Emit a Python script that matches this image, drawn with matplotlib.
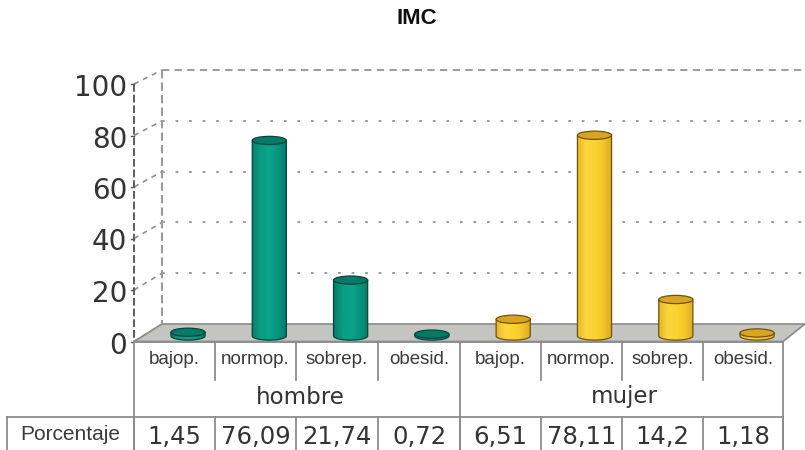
import numpy as np
import matplotlib
matplotlib.use('Agg')
import matplotlib.pyplot as plt
from matplotlib.colors import LinearSegmentedColormap
from matplotlib.patches import Ellipse, PathPatch, Polygon
from matplotlib.path import Path

W, H = 805, 450

categorias = ['bajop.', 'normop.', 'sobrep.', 'obesid.'] * 2
grupos = ['hombre', 'mujer']
valores = [1.45, 76.09, 21.74, 0.72, 6.51, 78.11, 14.2, 1.18]
etiquetas_valores = ['1,45', '76,09', '21,74', '0,72', '6,51', '78,11', '14,2', '1,18']
ticks = [0, 20, 40, 60, 80, 100]
fila = 'Porcentaje'

GRIS = '#8c8c8c'
TEXTO = '#333333'
VERDE = ['#067f6c', '#0a9c85', '#0aa48c', '#07947e', '#067a68']
AMARILLO = ['#e6b526', '#fdd63d', '#fcd230', '#f5c62a', '#dca81f']
TAPA = {'v': '#067a67', 'a': '#d9a520'}

fig = plt.figure(figsize=(W / 100, H / 100), dpi=100, facecolor='white')

# capa base en pixeles para rejilla, suelo y tabla
base = fig.add_axes([0, 0, 1, 1])
base.set_xlim(0, W)
base.set_ylim(H, 0)
base.axis('off')

FRONT_X, BACK_X = 134, 162
FRONT_0, FRONT_100 = 341.5, 84
BACK_0, BACK_100 = 324, 70
DERECHA = 783


def front_y(v):
    return FRONT_0 - (FRONT_0 - FRONT_100) * v / 100


def back_y(v):
    return BACK_0 - (BACK_0 - BACK_100) * v / 100


# suelo
base.add_patch(Polygon([(FRONT_X, FRONT_0), (BACK_X, BACK_0), (W, BACK_0), (DERECHA, FRONT_0)],
                       closed=True, facecolor='#c4c4c0', edgecolor='#8a8a86', lw=1.2, zorder=1))

# rejilla
for t in ticks:
    by = back_y(t)
    if t > 0:
        est = (0, (4, 3)) if t == 100 else (0, (1.5, 6))
        base.plot([BACK_X, W], [by, by], color='#8f9592', lw=1.3, ls=est, zorder=1)
    base.plot([FRONT_X, BACK_X], [front_y(t), by], color='#8f8f8f', lw=1.2, ls=(0, (3, 3)), zorder=1)
    base.plot([FRONT_X - 3, FRONT_X], [front_y(t)] * 2, color='#555555', lw=1, zorder=2)
    base.text(127, front_y(t) + 4, str(t), ha='right', va='center', fontsize=20,
              color=TEXTO, family='DejaVu Sans')
base.plot([BACK_X, BACK_X], [BACK_100, BACK_0], color='#9a9a9a', lw=1.5, ls=(0, (4, 2)), zorder=1)
base.plot([FRONT_X, FRONT_X], [FRONT_100, FRONT_0], color='#5c5c5c', lw=1.4, ls=(0, (4, 1.5)), zorder=2)

# tabla
y_linea = 417
anchos = [134, 215, 296, 378, 460, 541, 622, 703, 783]
centros = [(a + b) / 2 for a, b in zip(anchos[:-1], anchos[1:])]
for i, x in enumerate(anchos):
    largo = i in (0, 4, 8)
    base.plot([x, x], [FRONT_0, H if largo else 380], color=GRIS, lw=1.3, zorder=2)
    base.plot([x, x], [y_linea, H], color=GRIS, lw=1.3, zorder=2)
base.plot([FRONT_X, DERECHA], [FRONT_0, FRONT_0], color=GRIS, lw=1.3, zorder=2)
base.plot([7, DERECHA], [y_linea, y_linea], color=GRIS, lw=1.3, zorder=2)
base.plot([7, 7], [y_linea, H], color=GRIS, lw=1.3, zorder=2)

for c, cat, et in zip(centros, categorias, etiquetas_valores):
    base.text(c, 359, cat, ha='center', va='center', fontsize=13.5, color='#3a3a3a', family='Liberation Sans')
    base.text(c, 437, et, ha='center', va='center', fontsize=17.5, color=TEXTO, family='DejaVu Sans')
for j, g in enumerate(grupos):
    base.text((anchos[j * 4] + anchos[j * 4 + 4]) / 2 + 3, 397, g, ha='center', va='center',
              fontsize=16.5, color=TEXTO, family='DejaVu Sans')
base.text(70, 435, fila, ha='center', va='center', fontsize=15, color='#3a3a3a', family='Liberation Sans')
base.text(417, 19, 'IMC', ha='center', va='center', fontsize=16, fontweight='bold',
          color='#111111', family='Liberation Sans')

# capa de barras, en unidades de categoria y porcentaje
X_0, PASO = 188, 81.3
Y_0, ESCALA = 336, 2.57
Y_MIN = -5
izq = (X_0 - PASO / 2) / W
abajo = (H - Y_0 + Y_MIN * ESCALA) / H
bars = fig.add_axes([izq, abajo, PASO * 8 / W, ESCALA * (100 - Y_MIN) / H], facecolor='none')
bars.axis('off')

ANCHO = 0.42
ALTO_ELIPSE = 3.2
cm_v = LinearSegmentedColormap.from_list('v', VERDE)
cm_a = LinearSegmentedColormap.from_list('a', AMARILLO)
gradiente = np.linspace(0, 1, 64).reshape(1, -1)

for i, v in enumerate(valores):
    hombre = i < 4
    borde = '#04463c' if hombre else '#6d5410'
    l, r = i - ANCHO / 2, i + ANCHO / 2
    # cuerpo: lados rectos y base eliptica
    ts = np.linspace(np.pi, 2 * np.pi, 24)
    xs = i + ANCHO / 2 * np.cos(ts)
    ys = ALTO_ELIPSE / 2 * np.sin(ts)
    verts = [(l, v)] + list(zip(xs, ys)) + [(r, v), (l, v)]
    img = bars.imshow(gradiente, extent=[l, r, Y_MIN, v + 1], aspect='auto',
                      cmap=cm_v if hombre else cm_a, zorder=3)
    parche = PathPatch(Path(verts), facecolor='none', edgecolor=borde, lw=0.9, zorder=4)
    bars.add_patch(parche)
    img.set_clip_path(parche)
    bars.add_patch(Ellipse((i, v), ANCHO, ALTO_ELIPSE, facecolor=TAPA['v' if hombre else 'a'],
                           edgecolor=borde, lw=0.9, zorder=5))
bars.set_xlim(-0.5, 7.5)
bars.set_ylim(Y_MIN, 100)

fig.savefig('out.png', dpi=100, facecolor='white')
plt.close(fig)
